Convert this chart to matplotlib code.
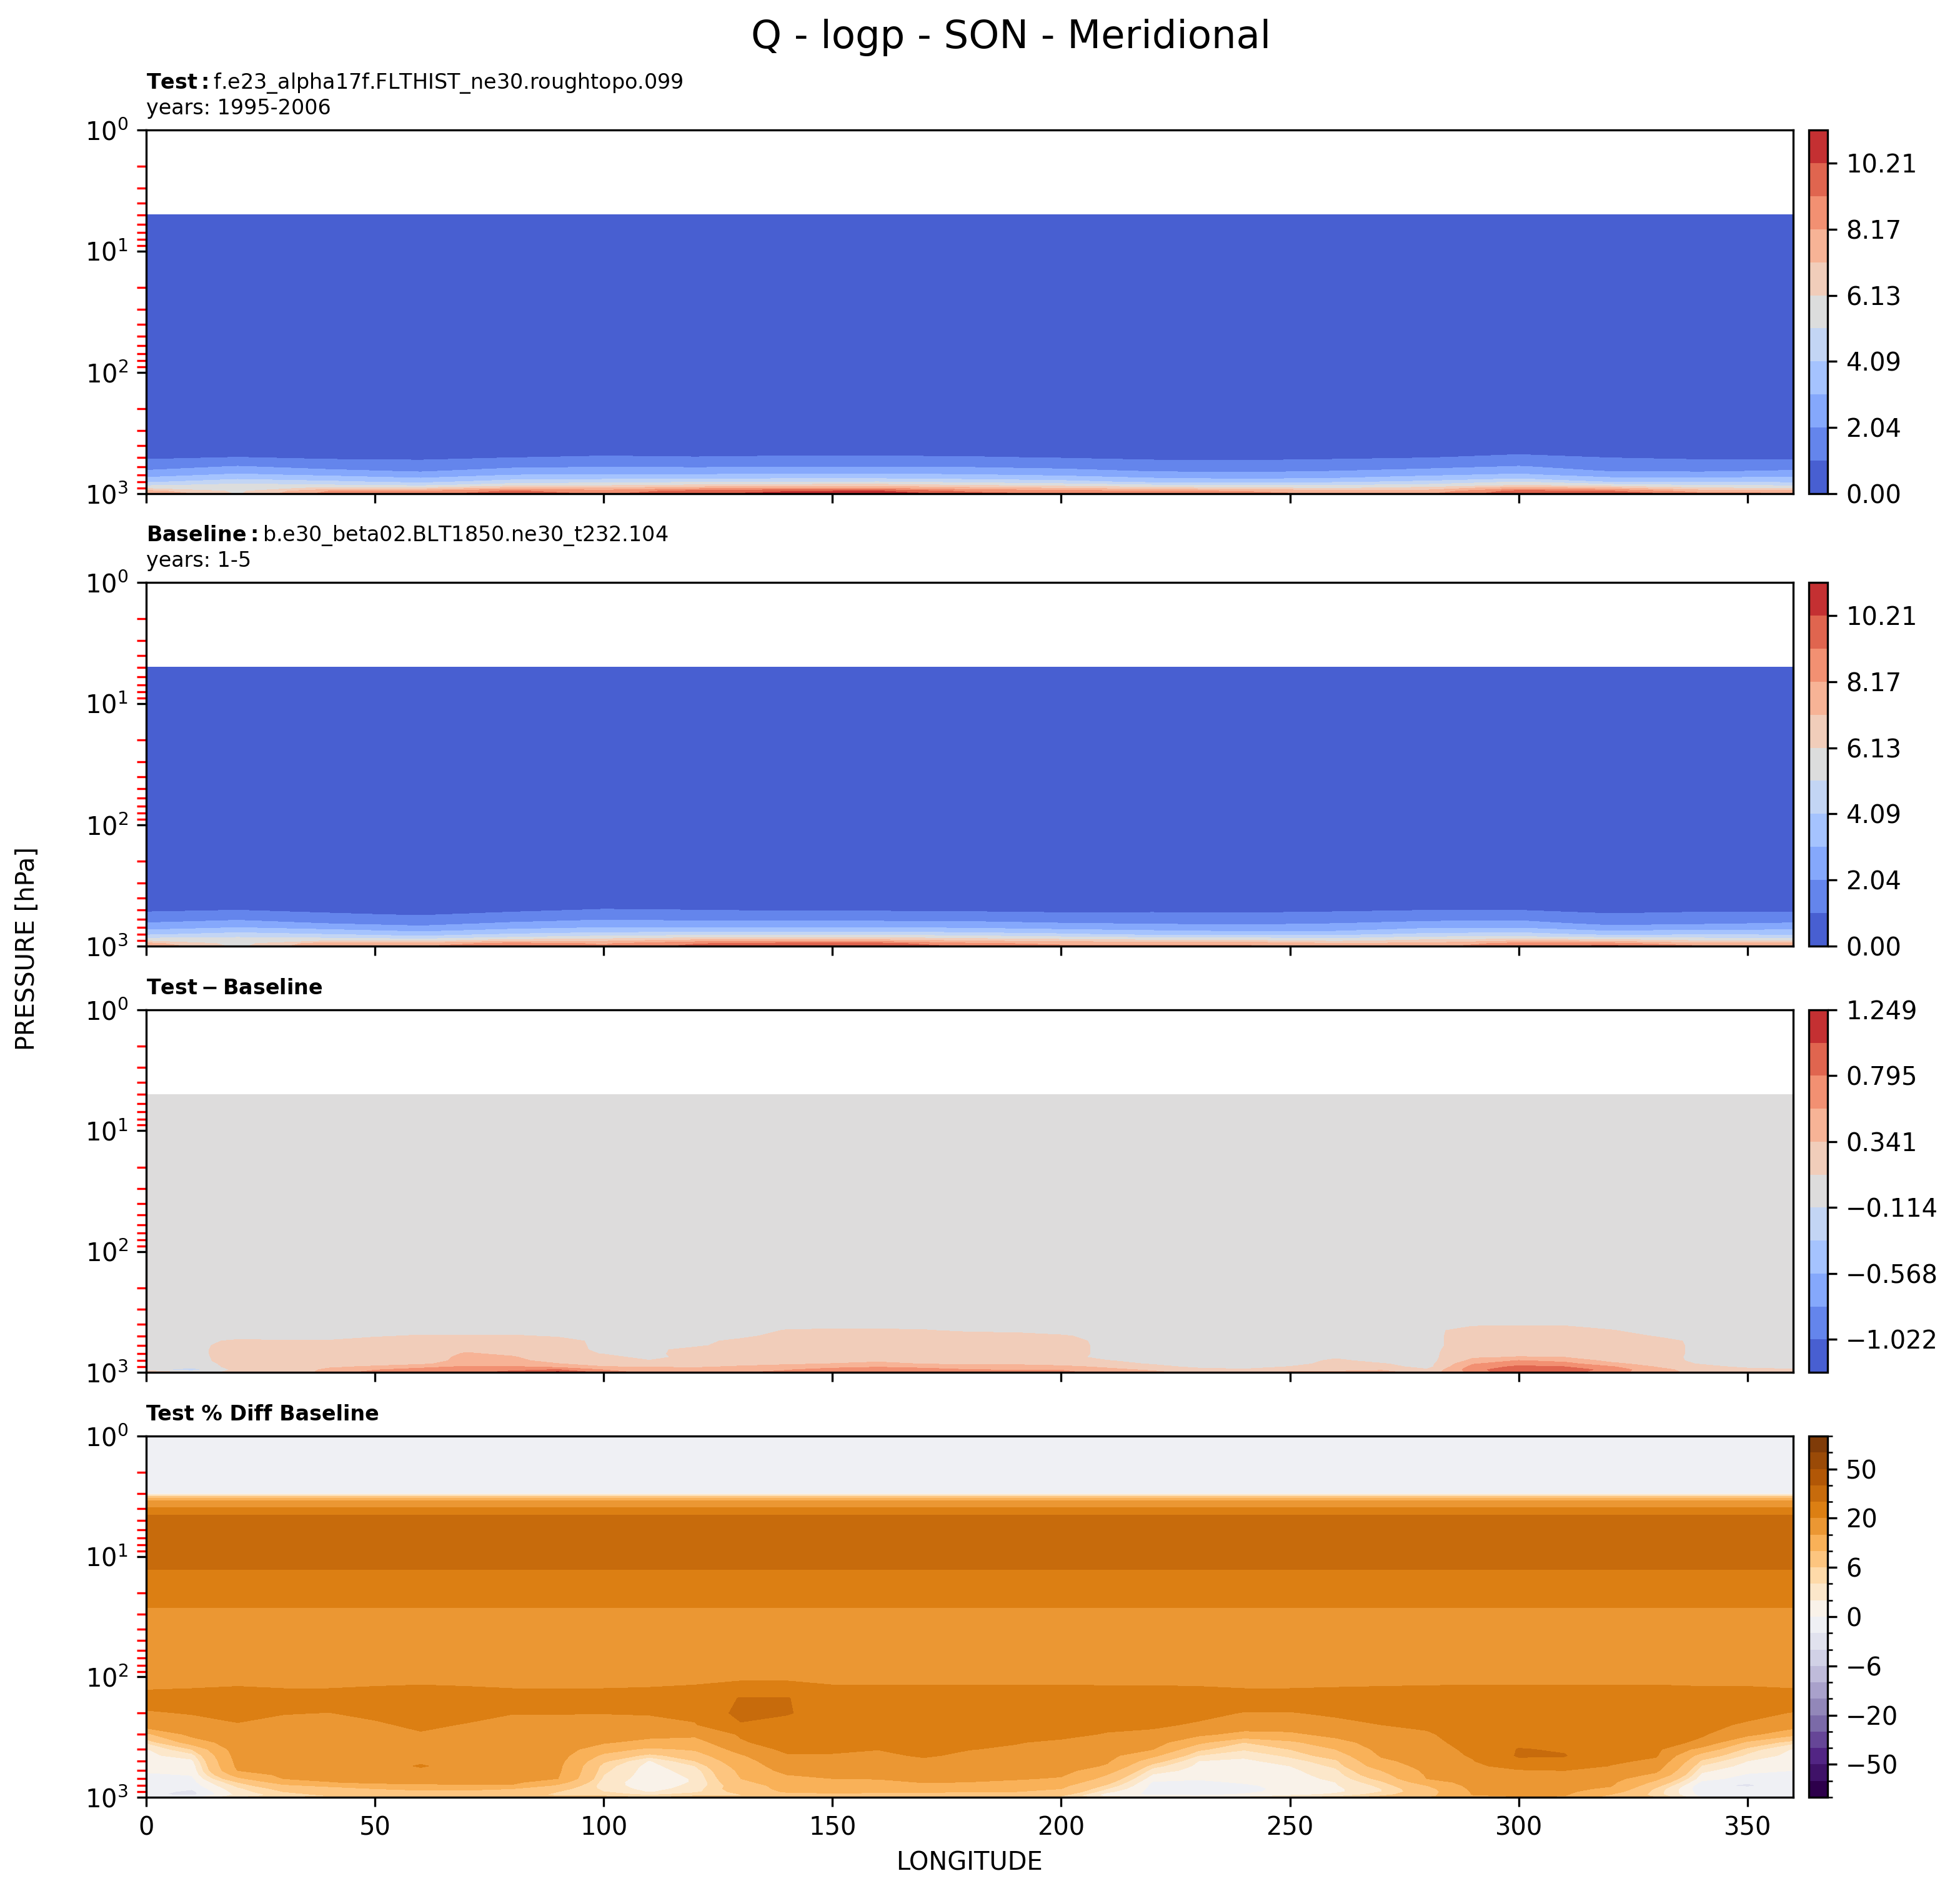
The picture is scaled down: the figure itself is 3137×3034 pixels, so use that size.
import numpy as np
import matplotlib
matplotlib.use("Agg")
import matplotlib.pyplot as plt
from matplotlib.colors import BoundaryNorm

# ---------------- data ----------------
title = "Q - logp - SON - Meridional"
test_name = "f.e23_alpha17f.FLTHIST_ne30.roughtopo.099"
test_years = "1995-2006"
base_name = "b.e30_beta02.BLT1850.ne30_t232.104"
base_years = "1-5"

# Q panels (g/kg): longitudes every 20 deg
lon_q = [0, 20, 40, 60, 80, 100, 120, 140, 160, 180, 200, 220, 240, 260, 280, 300, 320, 340, 360]
q_upper_plev = [5, 50, 200, 350]
q_upper_profile = [0.004, 0.004, 0.06, 0.35]
q_lower_plev = [450, 500, 550, 600, 650, 700, 750, 800, 850, 900, 950, 1000]
# one list per longitude (values at q_lower_plev)
q_test_cols = [
    [0.60, 0.90, 1.19, 1.65, 2.13, 2.68, 3.26, 3.91, 4.94, 5.95, 7.50, 8.30],
    [0.72, 1.02, 1.57, 2.12, 2.66, 3.23, 3.90, 4.74, 5.35, 5.65, 5.90, 6.00],
    [0.58, 0.85, 1.28, 1.73, 2.23, 2.88, 3.56, 4.30, 5.18, 6.33, 8.17, 8.60],
    [0.58, 0.85, 1.16, 1.54, 1.92, 2.49, 3.15, 3.82, 4.85, 6.31, 8.20, 8.80],
    [0.68, 0.98, 1.42, 1.88, 2.44, 3.05, 3.76, 4.60, 5.65, 7.33, 9.30, 9.80],
    [0.78, 1.10, 1.56, 2.01, 2.56, 3.13, 3.88, 4.82, 5.91, 7.25, 8.60, 9.00],
    [0.74, 1.04, 1.49, 1.95, 2.52, 3.14, 3.96, 4.96, 6.25, 7.84, 9.55, 10.00],
    [0.78, 1.10, 1.56, 2.01, 2.59, 3.23, 4.06, 5.08, 6.47, 8.00, 10.10, 10.60],
    [0.78, 1.10, 1.56, 2.01, 2.59, 3.23, 4.06, 5.15, 6.55, 8.10, 10.25, 11.00],
    [0.76, 1.06, 1.51, 1.97, 2.53, 3.13, 3.85, 4.82, 6.05, 7.49, 8.90, 9.60],
    [0.66, 0.95, 1.37, 1.80, 2.31, 2.89, 3.60, 4.49, 5.65, 7.10, 8.50, 9.00],
    [0.58, 0.85, 1.17, 1.57, 1.96, 2.53, 3.15, 3.82, 5.18, 6.57, 8.25, 8.70],
    [0.56, 0.83, 1.13, 1.50, 1.87, 2.36, 2.96, 3.76, 5.01, 6.31, 8.10, 8.50],
    [0.60, 0.88, 1.23, 1.63, 2.03, 2.56, 3.12, 3.92, 5.03, 6.03, 7.50, 8.00],
    [0.67, 0.97, 1.39, 1.81, 2.31, 2.89, 3.55, 4.32, 5.36, 6.47, 7.50, 8.00],
    [0.85, 1.19, 1.65, 2.11, 2.64, 3.23, 4.03, 5.14, 6.07, 7.85, 9.55, 10.00],
    [0.68, 0.98, 1.31, 1.64, 1.97, 2.58, 3.28, 4.03, 5.51, 7.33, 9.20, 10.20],
    [0.58, 0.87, 1.19, 1.55, 1.91, 2.53, 3.28, 4.03, 5.04, 6.27, 7.60, 8.50],
    [0.60, 0.90, 1.19, 1.65, 2.13, 2.68, 3.26, 3.91, 4.94, 5.95, 7.50, 8.30],
]
q_base_cols = [
    [0.60, 0.90, 1.18, 1.64, 2.12, 2.67, 3.25, 3.90, 4.93, 5.95, 7.50, 8.00],
    [0.71, 0.98, 1.40, 1.92, 2.45, 3.02, 3.68, 4.52, 5.15, 5.45, 5.72, 5.85],
    [0.57, 0.83, 1.12, 1.53, 2.01, 2.66, 3.34, 4.08, 4.93, 6.03, 7.77, 8.15],
    [0.57, 0.74, 0.96, 1.32, 1.70, 2.27, 2.93, 3.60, 4.55, 5.81, 7.55, 8.10],
    [0.65, 0.85, 1.22, 1.66, 2.19, 2.75, 3.40, 4.20, 5.20, 6.73, 8.55, 8.95],
    [0.74, 1.05, 1.51, 1.96, 2.50, 3.03, 3.68, 4.60, 5.66, 6.90, 8.05, 8.30],
    [0.70, 0.99, 1.44, 1.88, 2.32, 2.92, 3.74, 4.74, 6.03, 7.54, 9.10, 9.50],
    [0.66, 0.90, 1.34, 1.79, 2.37, 3.01, 3.84, 4.86, 6.17, 7.55, 9.55, 10.00],
    [0.64, 0.90, 1.34, 1.79, 2.37, 3.01, 3.84, 4.85, 6.15, 7.55, 9.55, 10.20],
    [0.68, 0.86, 1.29, 1.75, 2.31, 2.91, 3.63, 4.60, 5.75, 7.04, 8.33, 8.90],
    [0.63, 0.82, 1.17, 1.58, 2.09, 2.67, 3.38, 4.27, 5.40, 6.70, 7.95, 8.35],
    [0.58, 0.85, 1.17, 1.57, 1.96, 2.53, 3.15, 3.79, 5.09, 6.37, 7.95, 8.30],
    [0.56, 0.83, 1.13, 1.50, 1.87, 2.36, 2.96, 3.76, 5.00, 6.28, 7.96, 8.30],
    [0.60, 0.88, 1.23, 1.63, 2.03, 2.53, 3.03, 3.77, 4.83, 5.81, 7.22, 7.62],
    [0.67, 0.97, 1.39, 1.81, 2.31, 2.89, 3.55, 4.32, 5.36, 6.44, 7.36, 7.80],
    [0.63, 0.97, 1.43, 1.89, 2.39, 2.93, 3.68, 4.56, 5.37, 7.00, 8.55, 9.00],
    [0.56, 0.78, 1.09, 1.42, 1.75, 2.36, 3.06, 3.75, 5.11, 6.73, 8.50, 9.55],
    [0.58, 0.87, 1.19, 1.55, 1.91, 2.53, 3.28, 3.98, 4.95, 6.07, 7.38, 8.25],
    [0.60, 0.90, 1.18, 1.64, 2.12, 2.67, 3.25, 3.90, 4.93, 5.95, 7.50, 8.00],
]
q_level_min, q_level_max = 0.0, 11.2343

# Test - Baseline (g/kg): longitudes every 10 deg
lon_d = list(range(0, 361, 10))
d_upper_plev = [5, 100, 300]
d_upper_profile = [0.0, 0.01, 0.03]
d_lower_plev = [400, 450, 500, 550, 600, 650, 700, 750, 800, 850, 900, 950, 1000]
diff_cols = [
    [0.04, 0.04, 0.05, 0.05, 0.05, 0.05, 0.05, 0.04, 0.03, 0.02, 0.00, -0.05, 0.40],
    [0.04, 0.04, 0.05, 0.05, 0.05, 0.05, 0.05, 0.04, 0.03, 0.00, -0.05, -0.20, 0.05],
    [0.04, 0.04, 0.03, 0.15, 0.20, 0.22, 0.22, 0.22, 0.22, 0.20, 0.20, 0.18, 0.15],
    [0.04, 0.04, 0.03, 0.13, 0.20, 0.22, 0.22, 0.22, 0.22, 0.20, 0.18, 0.15, 0.12],
    [0.04, 0.04, 0.03, 0.13, 0.20, 0.22, 0.22, 0.22, 0.22, 0.25, 0.30, 0.40, 0.45],
    [0.04, 0.05, 0.09, 0.20, 0.22, 0.22, 0.22, 0.22, 0.22, 0.25, 0.38, 0.55, 0.65],
    [0.04, 0.03, 0.135, 0.20, 0.22, 0.22, 0.22, 0.22, 0.22, 0.30, 0.50, 0.65, 0.70],
    [0.04, 0.03, 0.135, 0.20, 0.22, 0.30, 0.36, 0.40, 0.42, 0.45, 0.60, 0.70, 0.75],
    [0.04, 0.03, 0.135, 0.20, 0.22, 0.25, 0.30, 0.36, 0.40, 0.45, 0.60, 0.75, 0.85],
    [0.04, 0.05, 0.09, 0.20, 0.22, 0.22, 0.22, 0.22, 0.25, 0.35, 0.50, 0.80, 1.10],
    [0.04, 0.04, 0.05, 0.05, 0.05, 0.06, 0.10, 0.20, 0.22, 0.25, 0.35, 0.55, 0.70],
    [0.04, 0.04, 0.05, 0.05, 0.05, 0.05, 0.05, 0.03, 0.125, 0.20, 0.33, 0.45, 0.50],
    [0.04, 0.04, 0.05, 0.05, 0.07, 0.20, 0.22, 0.22, 0.22, 0.22, 0.30, 0.45, 0.50],
    [0.04, 0.04, 0.06, 0.17, 0.22, 0.22, 0.22, 0.22, 0.22, 0.25, 0.38, 0.50, 0.55],
    [0.04, 0.125, 0.20, 0.22, 0.22, 0.22, 0.22, 0.22, 0.22, 0.30, 0.45, 0.55, 0.62],
    [0.04, 0.14, 0.20, 0.22, 0.22, 0.22, 0.22, 0.22, 0.25, 0.35, 0.50, 0.65, 0.75],
    [0.04, 0.14, 0.20, 0.22, 0.22, 0.22, 0.22, 0.22, 0.30, 0.40, 0.55, 0.70, 0.80],
    [0.04, 0.125, 0.20, 0.22, 0.22, 0.22, 0.22, 0.22, 0.25, 0.33, 0.50, 0.65, 0.75],
    [0.04, 0.08, 0.20, 0.22, 0.22, 0.22, 0.22, 0.22, 0.22, 0.30, 0.45, 0.57, 0.70],
    [0.04, 0.06, 0.20, 0.22, 0.22, 0.22, 0.22, 0.22, 0.22, 0.30, 0.45, 0.55, 0.65],
    [0.04, 0.03, 0.135, 0.20, 0.22, 0.22, 0.22, 0.22, 0.22, 0.25, 0.40, 0.55, 0.65],
    [0.04, 0.04, 0.05, 0.05, 0.05, 0.05, 0.05, 0.03, 0.125, 0.20, 0.30, 0.40, 0.45],
    [0.04, 0.04, 0.05, 0.05, 0.05, 0.05, 0.05, 0.04, 0.03, 0.09, 0.20, 0.30, 0.40],
    [0.04, 0.04, 0.05, 0.05, 0.05, 0.05, 0.05, 0.04, 0.03, 0.03, 0.05, 0.20, 0.25],
    [0.04, 0.04, 0.05, 0.05, 0.05, 0.05, 0.05, 0.04, 0.03, 0.03, 0.03, 0.14, 0.20],
    [0.04, 0.04, 0.05, 0.05, 0.05, 0.05, 0.05, 0.04, 0.03, 0.03, 0.125, 0.25, 0.38],
    [0.04, 0.04, 0.05, 0.05, 0.05, 0.05, 0.05, 0.09, 0.15, 0.20, 0.22, 0.28, 0.38],
    [0.04, 0.04, 0.05, 0.05, 0.05, 0.05, 0.05, 0.04, 0.05, 0.13, 0.20, 0.30, 0.45],
    [0.04, 0.04, 0.05, 0.05, 0.05, 0.05, 0.05, 0.04, 0.03, 0.03, 0.03, 0.14, 0.20],
    [0.07, 0.22, 0.22, 0.22, 0.22, 0.25, 0.28, 0.32, 0.40, 0.55, 0.65, 0.70, 0.65],
    [0.08, 0.22, 0.22, 0.22, 0.22, 0.25, 0.30, 0.35, 0.58, 0.70, 0.85, 1.00, 1.00],
    [0.08, 0.22, 0.22, 0.22, 0.22, 0.25, 0.30, 0.34, 0.50, 0.65, 0.80, 0.95, 0.90],
    [0.04, 0.125, 0.20, 0.22, 0.22, 0.22, 0.22, 0.22, 0.28, 0.40, 0.60, 0.70, 0.65],
    [0.04, 0.04, 0.10, 0.20, 0.22, 0.22, 0.22, 0.22, 0.22, 0.25, 0.33, 0.42, 0.45],
    [0.04, 0.04, 0.05, 0.05, 0.05, 0.05, 0.05, 0.04, 0.05, 0.09, 0.20, 0.22, 0.25],
    [0.04, 0.04, 0.05, 0.05, 0.05, 0.05, 0.05, 0.04, 0.04, 0.04, 0.05, 0.20, 0.25],
    [0.04, 0.04, 0.05, 0.05, 0.05, 0.05, 0.05, 0.04, 0.03, 0.03, 0.03, 0.14, 0.40],
]
diff_level_max = 1.2492

# Test % Diff Baseline (%): longitudes every 10 deg
p_upper_plev = [1, 3, 3.5, 4, 4.6, 12, 13, 25, 30, 50, 100]
p_upper_profile = [-0.5, -0.5, 17, 20.5, 31, 38, 29, 20.5, 19, 17, 18]
p_lower_plev = [150, 200, 250, 300, 350, 400, 450, 500, 550, 600, 650, 700, 750, 800, 850, 900, 950, 975, 1000]
pct_cols = [
    [21.5, 19.6, 18, 9, 4.2, 1.8, 1.5, 1.2, 0.8, 0.3, -0.3, -0.6, -0.8, -0.9, -1.0, -1.2, -1.6, -1.5, -1.0],
    [22, 20.2, 18.5, 16.5, 12, 6, 3, 1.5, 0.8, 0.4, 0.1, -0.4, -0.8, -1.2, -1.8, -2.5, -2.6, -1.5, -0.8],
    [23, 22, 19.5, 18.5, 18, 17.5, 17, 16.5, 16, 15, 12, 9, 6, 4.5, 3.5, 3, 2.5, 3, 4],
    [22, 20.2, 18.5, 18, 17.5, 17.5, 17.5, 17.5, 17, 16.5, 16, 15.1, 12, 9, 7, 6, 5, 5, 6],
    [22, 19.9, 18.5, 18, 17.8, 17.6, 17.5, 17.3, 17, 16.8, 16.5, 16, 14.8, 11, 8, 7, 6.5, 6, 7],
    [23, 21, 19.3, 18, 17.8, 17.6, 17.5, 17.5, 17.5, 17.3, 17, 16.5, 16, 13, 10, 8.5, 8, 7, 8],
    [24, 22, 21, 19.5, 18.5, 18, 18, 19, 20.5, 19, 18, 17, 16, 14, 11, 9, 8, 7, 8],
    [23, 21.5, 19.7, 18.5, 18, 17.8, 17.6, 17.5, 17.5, 17.3, 17, 16.5, 16, 14.5, 11, 9, 8, 7.5, 8],
    [22, 20.1, 19, 18.5, 18, 17.8, 17.6, 17.5, 17.3, 17, 16.8, 16.5, 16, 14.5, 10, 8.5, 7.5, 7, 8],
    [22, 20.1, 19, 18.5, 18, 17.5, 17, 16.5, 16, 15.8, 15.4, 15, 12, 9, 7, 6, 5.5, 6, 7],
    [22, 20.1, 18.5, 17, 15.5, 12, 9, 6.5, 5, 4.5, 4, 3.5, 3, 3, 3.5, 4, 5, 6, 7],
    [22.5, 20.3, 18.5, 16.5, 13.5, 9, 5, 1.8, 1.2, 1.0, 0.9, 0.8, 0.8, 0.9, 1.1, 1.8, 3.5, 5, 6],
    [24, 21.5, 19.5, 16, 13, 10.5, 8, 6, 4, 3, 2.5, 2.2, 2.2, 2.5, 3, 3.5, 5, 6, 7],
    [30.5, 33, 29, 20.5, 19.5, 17, 14.5, 13, 12, 11, 10.5, 10, 9, 8, 8, 7, 6, 6, 7],
    [30.5, 31, 25, 23, 22, 21, 19.5, 18.5, 17.5, 16.5, 15, 13.5, 12.5, 11.5, 11, 10.5, 8, 7, 8],
    [24, 24, 23, 22.5, 22, 21, 19.5, 18.5, 17.5, 16.8, 16, 15, 13, 12, 11.5, 11, 9, 8, 8],
    [24, 24, 23, 22, 21, 20.1, 19, 18.5, 18, 17, 16, 15.3, 13.5, 12, 11, 10.5, 9, 8, 8],
    [24, 24, 23, 22.5, 22, 21, 20.6, 19, 18, 17.5, 17, 16.5, 15.3, 13, 11.5, 10.5, 9, 8, 8],
    [24, 24, 23, 22, 21, 20.1, 19, 18.5, 18, 17.5, 17, 16, 14.9, 12.5, 11, 10, 8.5, 8, 8],
    [24, 23.5, 22.5, 21.5, 20.2, 19.5, 19, 18.5, 18, 17.5, 16.5, 15.5, 14, 12.5, 11, 10, 8.5, 8, 8],
    [24, 23, 22, 21, 19.3, 19, 18.5, 18, 17.5, 16.5, 15.6, 14.5, 12.5, 11, 10, 9, 7, 6, 6],
    [23.5, 22, 21, 19.7, 18.5, 17.5, 16.5, 15.6, 14.5, 12, 10, 8.5, 7, 5.5, 4, 2.5, 1, 1.5, 3],
    [23.5, 22, 20.7, 19, 17, 15.1, 11, 7.5, 4.8, 3, 1.8, 0.8, -0.2, -0.6, -0.8, -0.7, -0.4, 0.5, 2],
    [23, 21, 19.5, 16, 11, 6.5, 4, 2, 1.5, 1.2, 0.8, 0.2, -0.4, -0.7, -0.9, -0.8, -0.5, 0.3, 1.5],
    [22, 19.8, 17.5, 13.5, 6, 4.2, 2.5, 1.5, 1.2, 1.0, 0.8, 0.5, 0.2, -0.3, -0.5, -0.4, 0.2, 1, 2.5],
    [22, 19.8, 17.5, 14, 9, 6, 4.5, 3, 2, 1.5, 1.2, 1, 0.8, 0.6, 0.5, 0.6, 1.2, 2.5, 4],
    [22.5, 20.5, 19, 16.5, 13, 10, 7.5, 5.5, 4.5, 3.5, 3, 2.5, 2, 1.8, 1.5, 1.5, 2.5, 3.5, 5],
    [23, 21.5, 20, 18.5, 17.5, 16.5, 15.5, 14, 12.5, 10, 8.5, 7, 5.5, 4.5, 4, 4, 5, 6, 7],
    [23.5, 22, 21, 19.3, 18.5, 18, 17.5, 17, 16.5, 16, 15.5, 15.1, 12.5, 10, 8.5, 8, 8.5, 9, 10],
    [24, 24, 23.5, 23, 22, 21, 20.5, 19.7, 19, 18.5, 18, 17.5, 17, 16.5, 16, 15.5, 15.2, 14, 13],
    [24, 25, 25.5, 26, 27.5, 30.5, 31, 28, 22, 19.5, 18.5, 18, 17.5, 17, 16.5, 16, 16, 15.5, 14],
    [24, 25, 25.5, 26, 27, 29, 30.5, 28, 24, 20, 18.5, 18, 17.5, 17, 16.5, 16, 15.5, 15, 13],
    [24, 24.5, 24.5, 24, 23.5, 23, 22, 21, 19.8, 19, 18, 17, 16, 15.5, 14, 12, 10, 9, 9],
    [24, 24, 23.5, 23, 22, 21, 20.5, 19, 17.5, 16, 14, 11, 9, 7, 5.5, 5, 5, 5.5, 6],
    [23, 22, 21, 20.5, 19, 13, 8, 5.5, 3.8, 2.5, 1.5, 0.8, -0.5, -1.5, -1.5, -1.2, -0.8, -0.5, 0.2],
    [23, 21, 19.5, 16.5, 9, 5, 3.5, 2, 1.2, 0.5, -0.2, -0.8, -1.8, -2.3, -1.5, -1.0, -0.8, -0.5, -0.2],
    [22, 19.8, 17.5, 11, 4.5, 1.8, 1.2, 0.8, 0.4, 0, -0.4, -0.7, -0.9, -1.0, -1.1, -1.0, -0.8, -0.6, -0.4],
]
pct_levels = [-100, -75, -50, -40, -30, -20, -15, -10, -6, -4, -2, 0,
              2, 4, 6, 10, 15, 20, 30, 40, 50, 75, 100]


# ---------------- assemble fields ----------------
def build(lons, up_plev, up_prof, lo_plev, cols):
    lons = np.asarray(lons, float)
    up = np.asarray(up_prof, float)[:, None] * np.ones((1, len(lons)))
    lo = np.asarray(cols, float).T
    plev = np.concatenate([np.asarray(up_plev, float), np.asarray(lo_plev, float)])
    return lons, plev, np.vstack([up, lo])

lq, pq, q_test = build(lon_q, q_upper_plev, q_upper_profile, q_lower_plev, q_test_cols)
_, _, q_base = build(lon_q, q_upper_plev, q_upper_profile, q_lower_plev, q_base_cols)
ld, pd_, q_diff = build(lon_d, d_upper_plev, d_upper_profile, d_lower_plev, diff_cols)
lp, pp, q_pct = build(lon_d, p_upper_plev, p_upper_profile, p_lower_plev, pct_cols)

q_levels = np.linspace(q_level_min, q_level_max, 12)
diff_levels = np.linspace(-diff_level_max, diff_level_max, 12)

# ---------------- figure ----------------
W, H = 3137, 3034
fig = plt.figure(figsize=(W / 300, H / 300), dpi=300)

ax_left = 234 / W
ax_w = (2870 - 234) / W
cb_left = 2895 / W
cb_w = 30 / W
panels_px = [(208, 790), (932, 1514), (1616, 2196), (2298, 2876)]

TICK_FS = 9.6
TITLE_FS = 8

titles = [
    r"$\bf{Test}:$" + test_name + "\nyears: " + test_years,
    r"$\bf{Baseline}:$" + base_name + "\nyears: " + base_years,
    r"$\bf{Test - Baseline}$",
    None,
]

fields = [
    (lq, pq, q_test, dict(levels=q_levels, cmap="coolwarm")),
    (lq, pq, q_base, dict(levels=q_levels, cmap="coolwarm")),
    (ld, pd_, q_diff, dict(levels=diff_levels, cmap="coolwarm")),
    (lp, pp, q_pct, dict(levels=pct_levels, cmap="PuOr_r",
                         norm=BoundaryNorm(pct_levels, 256))),
]

axes = []
for i, ((top, bot), (x, y, z, kw)) in enumerate(zip(panels_px, fields)):
    rect = [ax_left, 1 - bot / H, ax_w, (bot - top) / H]
    ax = fig.add_axes(rect)
    cs = ax.contourf(x, y, z, **kw)
    ax.set_yscale("log")
    ax.set_ylim(1000, 1)
    ax.set_xlim(0, 360)
    ax.set_xticks(np.arange(0, 351, 50))
    ax.tick_params(axis="both", which="major", labelsize=TICK_FS)
    ax.tick_params(axis="y", which="minor", color="red", length=3.5, width=0.8)
    if i < 3:
        ax.tick_params(axis="x", labelbottom=False)
    if titles[i] is not None:
        ax.set_title(titles[i], loc="left", fontsize=TITLE_FS)
    else:
        ax.set_title("Test % Diff Baseline", loc="left", fontsize=TITLE_FS,
                     fontweight="bold")

    cax = fig.add_axes([cb_left, 1 - bot / H, cb_w, (bot - top) / H])
    cbar = fig.colorbar(cs, cax=cax)
    if i < 2:
        cbar.set_ticks(q_levels[0::2])
    elif i == 2:
        cbar.set_ticks(diff_levels[1::2])
    cbar.ax.tick_params(labelsize=TICK_FS)
    axes.append(ax)

axes[-1].set_xlabel("LONGITUDE", fontsize=TICK_FS)
fig.text(0.014, 1 - 1518 / H, "PRESSURE [hPa]", rotation=90, ha="center",
         va="center", fontsize=TICK_FS)
fig.text(1618 / W, 1 - 77 / H, title, ha="center", va="baseline", fontsize=15)

fig.savefig("out.png", dpi=300)
